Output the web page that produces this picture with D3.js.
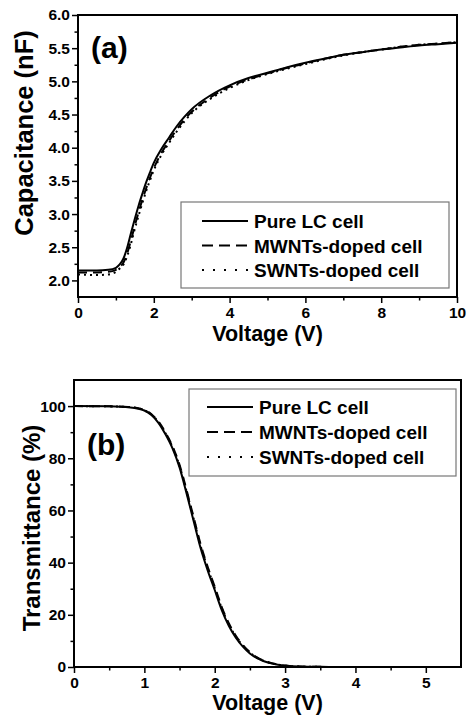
<!DOCTYPE html>
<meta charset="utf-8">
<style>
body { margin: 0; background: #fff; }
svg { font-family: "Liberation Sans", Arial, sans-serif; font-weight: bold; }
.tick text { font-size: 15.5px; font-weight: bold; fill: #000; }
.tick line { stroke: #000; stroke-width: 1.5px; }
path.curve { fill: none; stroke: #000; stroke-width: 2px; }
</style>
<svg width="467" height="716"></svg>
<script src="https://cdn.jsdelivr.net/npm/d3@7"></script>
<script>

// panel (a): capacitance vs voltage
var voltA = [0, 0.5, 0.8, 1.0, 1.1, 1.2, 1.3, 1.4, 1.5, 1.6, 1.7, 1.8, 1.9, 2.0, 2.2, 2.4, 2.6, 2.8, 3.0, 3.5, 4.0, 4.5, 5, 5.5, 6, 6.5, 7, 7.5, 8, 8.5, 9, 9.5, 10];
var capPure = [2.15, 2.15, 2.16, 2.19, 2.24, 2.33, 2.50, 2.72, 2.93, 3.13, 3.31, 3.48, 3.63, 3.77, 3.98, 4.15, 4.32, 4.46, 4.58, 4.79, 4.94, 5.05, 5.13, 5.21, 5.28, 5.34, 5.40, 5.44, 5.48, 5.51, 5.54, 5.56, 5.58];
var capMW = [2.12, 2.12, 2.13, 2.16, 2.20, 2.27, 2.41, 2.61, 2.83, 3.03, 3.22, 3.39, 3.55, 3.69, 3.92, 4.10, 4.27, 4.42, 4.54, 4.76, 4.92, 5.03, 5.12, 5.20, 5.27, 5.34, 5.40, 5.44, 5.48, 5.52, 5.55, 5.57, 5.59];
var capSW = [2.09, 2.08, 2.09, 2.13, 2.18, 2.24, 2.37, 2.56, 2.78, 2.98, 3.17, 3.35, 3.51, 3.66, 3.89, 4.07, 4.24, 4.39, 4.52, 4.74, 4.90, 5.02, 5.11, 5.19, 5.26, 5.33, 5.39, 5.44, 5.48, 5.52, 5.55, 5.57, 5.59];

// panel (b): transmittance vs voltage
var voltB = [0, 0.5, 0.8, 1.0, 1.1, 1.2, 1.3, 1.4, 1.5, 1.6, 1.7, 1.8, 1.9, 2.0, 2.1, 2.2, 2.3, 2.4, 2.5, 2.6, 2.7, 2.8, 2.9, 3.0, 3.2, 3.5, 4.0, 5.5];
var trPure = [100, 99.9, 99.5, 98.3, 96.6, 93.6, 89.2, 83.8, 76.5, 66.5, 56, 45.5, 37, 29.5, 21.8, 15.8, 11.2, 7.8, 5.2, 3.4, 2.2, 1.4, 0.85, 0.5, 0.15, 0.05, 0, 0];
var trMW = [100, 99.9, 99.6, 98.5, 96.9, 94.1, 89.9, 84.6, 77.5, 67.8, 57.4, 47, 38.4, 30.8, 23, 16.8, 12, 8.4, 5.7, 3.7, 2.4, 1.5, 0.95, 0.55, 0.18, 0.06, 0, 0];
var trSW = [100, 99.9, 99.6, 98.4, 96.8, 93.9, 89.6, 84.3, 77.1, 67.3, 56.9, 46.4, 37.9, 30.3, 22.5, 16.4, 11.7, 8.2, 5.5, 3.6, 2.3, 1.5, 0.9, 0.52, 0.17, 0.05, 0, 0];

var seriesNames = ["Pure LC cell", "MWNTs-doped cell", "SWNTs-doped cell"];
var dashes = [null, "9,6", "2,4"];

var svg = d3.select("svg");

function panel(opt) {
  var g = svg.append("g");
  var x = d3.scaleLinear().domain(opt.xDomain).range([opt.left, opt.right]);
  var y = d3.scaleLinear().domain(opt.yDomain).range([opt.bottom, opt.top]);

  // minor ticks
  g.append("g")
      .attr("transform", "translate(0," + opt.bottom + ")")
      .call(d3.axisBottom(x).tickValues(opt.xMinor).tickSize(3.5).tickFormat(""));
  g.append("g")
      .attr("transform", "translate(" + opt.left + ",0)")
      .call(d3.axisLeft(y).tickValues(opt.yMinor).tickSize(3.5).tickFormat(""));

  // major ticks
  g.append("g")
      .attr("transform", "translate(0," + opt.bottom + ")")
      .call(d3.axisBottom(x).tickValues(opt.xTicks).tickSize(6).tickPadding(4).tickFormat(d3.format("d")));
  g.append("g")
      .attr("transform", "translate(" + opt.left + ",0)")
      .call(d3.axisLeft(y).tickValues(opt.yTicks).tickSize(6).tickPadding(2).tickFormat(opt.yFormat));

  g.selectAll(".domain").remove();

  var line = d3.line()
      .x(function(d) { return x(d[0]); })
      .y(function(d) { return y(d[1]); })
      .curve(d3.curveMonotoneX);

  opt.series.slice().reverse().forEach(function(vals, i) {
    var k = opt.series.length - 1 - i;
    g.append("path")
        .attr("class", "curve")
        .attr("stroke-dasharray", dashes[k])
        .attr("d", line(opt.volt.map(function(v, j) { return [v, vals[j]]; })));
  });

  // frame
  g.append("rect")
      .attr("x", opt.left).attr("y", opt.top)
      .attr("width", opt.right - opt.left).attr("height", opt.bottom - opt.top)
      .attr("fill", "none").attr("stroke", "#000").attr("stroke-width", 2);

  // panel label
  g.append("text")
      .attr("x", opt.labelPos[0]).attr("y", opt.labelPos[1])
      .style("font-size", "30px")
      .text(opt.label);

  // axis titles
  g.append("text")
      .attr("x", (opt.left + opt.right) / 2).attr("y", opt.xTitleY)
      .attr("text-anchor", "middle")
      .style("font-size", "21.5px")
      .text("Voltage (V)");
  g.append("text")
      .attr("transform", "translate(" + opt.yTitle[0] + "," + opt.yTitle[1] + ") rotate(-90)")
      .attr("text-anchor", "middle")
      .style("font-size", opt.yTitleSize)
      .text(opt.yLabel);

  // legend
  var L = opt.legend;
  g.append("rect")
      .attr("x", L.x).attr("y", L.y).attr("width", L.w).attr("height", L.h)
      .attr("fill", "#fff").attr("stroke", "#777").attr("stroke-width", 1.2);
  seriesNames.forEach(function(name, i) {
    var by = L.base + i * L.step;
    g.append("line")
        .attr("x1", L.lineX).attr("x2", L.lineX + 46)
        .attr("y1", by - 7).attr("y2", by - 7)
        .attr("stroke", "#000").attr("stroke-width", 2)
        .attr("stroke-dasharray", i === 1 ? "11,6" : (i === 2 ? "2,9" : null));
    g.append("text")
        .attr("x", L.lineX + 52).attr("y", by)
        .style("font-size", "19px")
        .text(name);
  });
}

panel({
  left: 78, right: 457, top: 15, bottom: 297,
  xDomain: [0, 10], yDomain: [1.75, 6.0],
  xTicks: [0, 2, 4, 6, 8, 10], xMinor: [1, 3, 5, 7, 9],
  yTicks: [2.0, 2.5, 3.0, 3.5, 4.0, 4.5, 5.0, 5.5, 6.0],
  yMinor: [2.25, 2.75, 3.25, 3.75, 4.25, 4.75, 5.25, 5.75],
  yFormat: d3.format(".1f"),
  volt: voltA, series: [capPure, capMW, capSW],
  label: "(a)", labelPos: [91, 58],
  xTitleY: 341, yTitle: [33, 133], yLabel: "Capacitance (nF)", yTitleSize: "25.5px",
  legend: { x: 181, y: 202, w: 268, h: 86, lineX: 202, base: 228, step: 24.5 }
});

panel({
  left: 74, right: 461, top: 380, bottom: 667,
  xDomain: [0, 5.5], yDomain: [0, 110],
  xTicks: [0, 1, 2, 3, 4, 5], xMinor: [0.5, 1.5, 2.5, 3.5, 4.5],
  yTicks: [0, 20, 40, 60, 80, 100],
  yMinor: [10, 30, 50, 70, 90],
  yFormat: d3.format("d"),
  volt: voltB, series: [trPure, trMW, trSW],
  label: "(b)", labelPos: [87, 455],
  xTitleY: 710, yTitle: [40, 528], yLabel: "Transmittance (%)", yTitleSize: "24px",
  legend: { x: 189, y: 389, w: 267, h: 87, lineX: 207, base: 414, step: 25 }
});

</script>
